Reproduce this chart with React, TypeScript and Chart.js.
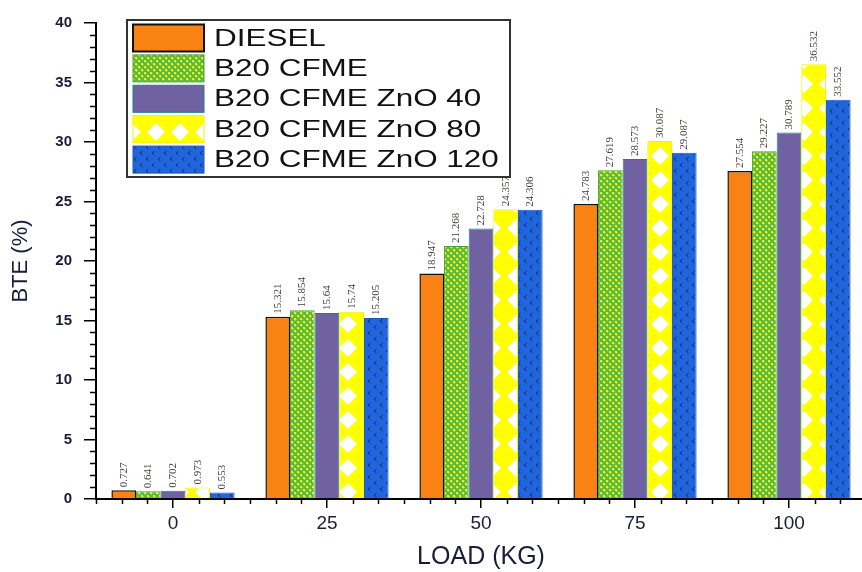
import { useEffect, useRef } from "react";
import { Chart, registerables } from "chart.js";

Chart.register(...registerables);

// ---------- data ----------
const categories = ["0", "25", "50", "75", "100"];
const seriesNames = ["DIESEL", "B20 CFME", "B20 CFME ZnO 40", "B20 CFME ZnO 80", "B20 CFME ZnO 120"];
const diesel = [0.727, 15.321, 18.947, 24.783, 27.554];
const b20cfme = [0.641, 15.854, 21.268, 27.619, 29.227];
const zno40 = [0.702, 15.64, 22.728, 28.573, 30.789];
const zno80 = [0.973, 15.74, 24.357, 30.087, 36.532];
const zno120 = [0.553, 15.205, 24.306, 29.087, 33.552];
const yMin = 0;
const yMax = 40;
const yStep = 5;
const xTitle = "LOAD (KG)";
const yTitle = "BTE (%)";

function makeTile(w: number, h: number, draw: (c: CanvasRenderingContext2D) => void) {
  const cv = document.createElement("canvas");
  cv.width = w;
  cv.height = h;
  const c = cv.getContext("2d")!;
  draw(c);
  return cv;
}

function makePatterns(ctx: CanvasRenderingContext2D) {
  const orange = "#F98212";
  const green = ctx.createPattern(
    makeTile(6, 6, (c) => {
      c.fillStyle = "#5CB940";
      c.fillRect(0, 0, 6, 6);
      c.fillStyle = "#E8F020";
      c.fillRect(0, 0, 2, 2);
      c.fillRect(3, 3, 2, 2);
      c.fillStyle = "#A8D52E";
      c.fillRect(2, 1, 1, 1);
      c.fillRect(5, 4, 1, 1);
      c.fillRect(1, 2, 1, 1);
      c.fillRect(4, 5, 1, 1);
    }),
    "repeat"
  )!;
  const purple = ctx.createPattern(
    makeTile(8, 8, (c) => {
      c.fillStyle = "#7A5CA6";
      c.fillRect(0, 0, 8, 8);
      c.fillStyle = "#2A8A88";
      c.fillRect(1, 1, 2, 2);
      c.fillRect(5, 5, 2, 2);
    }),
    "repeat"
  )!;
  const yellow = ctx.createPattern(
    makeTile(24, 24, (c) => {
      c.fillStyle = "#FFFF00";
      c.fillRect(0, 0, 24, 24);
      c.fillStyle = "#FFFFFF";
      c.beginPath();
      c.moveTo(12, 3);
      c.lineTo(21, 12);
      c.lineTo(12, 21);
      c.lineTo(3, 12);
      c.closePath();
      c.fill();
    }),
    "repeat"
  )!;
  const blue = ctx.createPattern(
    makeTile(12, 12, (c) => {
      c.fillStyle = "#1F66DE";
      c.fillRect(0, 0, 12, 12);
      c.strokeStyle = "#1B2E58";
      c.lineWidth = 1;
      c.beginPath();
      c.moveTo(4.5, 1);
      c.lineTo(2, 3);
      c.lineTo(4.5, 5);
      c.moveTo(10.5, 7);
      c.lineTo(8, 9);
      c.lineTo(10.5, 11);
      c.stroke();
    }),
    "repeat"
  )!;
  return [orange, green, purple, yellow, blue];
}

const borderColors = ["#111111", "#4FA030", "#1E7F7F", "#F2F200", "#1A55C0"];

const minorTicksPlugin = {
  id: "minorTicks",
  afterDraw(chart: any) {
    const { ctx, chartArea } = chart;
    const ys = chart.scales.y;
    const xs = chart.scales.x;
    ctx.save();
    ctx.strokeStyle = "#000";
    ctx.lineWidth = 1.5;
    ctx.beginPath();
    for (let v = yMin; v <= yMax; v += 1) {
      if (v % yStep === 0) continue;
      const y = Math.round(ys.getPixelForValue(v)) + 0.5;
      ctx.moveTo(chartArea.left - 6, y);
      ctx.lineTo(chartArea.left, y);
    }
    const n = categories.length;
    const cw = xs.getPixelForValue(1) - xs.getPixelForValue(0);
    for (let i = 0; i < n; i++) {
      const c = xs.getPixelForValue(i);
      const ks = i === n - 1 ? [-3, -2, -1, 1, 2, 3] : [-3, -2, -1, 1, 2];
      for (const k of ks) {
        const x = Math.round(c + (k / 6) * cw) + 0.5;
        ctx.moveTo(x, chartArea.bottom);
        ctx.lineTo(x, chartArea.bottom + 5);
      }
    }
    ctx.stroke();
    ctx.restore();
  },
};

const valueLabelPlugin = {
  id: "valueLabels",
  afterDatasetsDraw(chart: any) {
    const { ctx } = chart;
    ctx.save();
    ctx.font = '11px "Liberation Serif", "Times New Roman", serif';
    ctx.fillStyle = "#4a3a3a";
    ctx.textAlign = "left";
    ctx.textBaseline = "middle";
    chart.data.datasets.forEach((ds: any, di: number) => {
      const meta = chart.getDatasetMeta(di);
      meta.data.forEach((bar: any, i: number) => {
        ctx.save();
        ctx.translate(bar.x, bar.y - 3);
        ctx.rotate(-Math.PI / 2);
        ctx.fillText(String(ds.data[i]), 0, 0);
        ctx.restore();
      });
    });
    ctx.restore();
  },
};

const legendPlugin = {
  id: "boxLegend",
  afterDraw(chart: any) {
    const { ctx } = chart;
    const left = 127;
    const top = 20;
    const w = 383;
    const h = 157;
    ctx.save();
    ctx.fillStyle = "#fff";
    ctx.fillRect(left, top, w, h);
    ctx.strokeStyle = "#333";
    ctx.lineWidth = 2;
    ctx.strokeRect(left, top, w, h);
    const pitch = 30.4;
    chart.data.datasets.forEach((ds: any, i: number) => {
      const cy = 38 + i * pitch;
      ctx.fillStyle = ds.backgroundColor;
      ctx.fillRect(133, cy - 13.5, 71, 27);
      ctx.strokeStyle = i === 0 ? "#111" : ds.borderColor;
      ctx.lineWidth = i === 0 ? 2 : 1;
      ctx.strokeRect(133, cy - 13.5, 71, 27);
      ctx.save();
      ctx.translate(214, cy + 1);
      ctx.scale(1.31, 1);
      ctx.font = '24px "Liberation Sans", Arial, sans-serif';
      ctx.fillStyle = "#111";
      ctx.textAlign = "left";
      ctx.textBaseline = "middle";
      ctx.fillText(ds.label, 0, 0);
      ctx.restore();
    });
    ctx.restore();
  },
};

export default function App() {
  const ref = useRef<HTMLCanvasElement>(null);
  useEffect(() => {
    const canvas = ref.current!;
    const ctx = canvas.getContext("2d")!;
    const fills = makePatterns(ctx);
    const series = [diesel, b20cfme, zno40, zno80, zno120];
    const chart = new Chart(canvas, {
      type: "bar",
      data: {
        labels: categories,
        datasets: series.map((d, i) => ({
          label: seriesNames[i],
          data: d,
          backgroundColor: fills[i] as any,
          borderColor: borderColors[i],
          borderWidth: i === 0 ? 1.5 : 1,
          categoryPercentage: 0.8,
          barPercentage: 1.0,
        })),
      },
      options: {
        animation: false,
        responsive: false,
        layout: { padding: { left: 0, right: 4, top: 23, bottom: 0 } },
        plugins: { legend: { display: false }, tooltip: { enabled: false } },
        scales: {
          x: {
            type: "category",
            offset: true,
            grid: { display: true, drawOnChartArea: false, drawTicks: true, tickLength: 9, offset: false, color: "#000", lineWidth: 1.5 },
            border: { display: true, color: "#000", width: 2 },
            ticks: { color: "#1b1b3a", font: { family: '"Liberation Sans", Arial, sans-serif', size: 19 }, padding: 4, maxRotation: 0 },
            title: { display: true, text: xTitle, color: "#1b1b3a", font: { family: '"Liberation Sans", Arial, sans-serif', size: 25 }, padding: { top: 0, bottom: 0 } },
            afterFit: (s: any) => { s.height = 73; },
          },
          y: {
            min: yMin,
            max: yMax,
            ticks: { stepSize: yStep, color: "#1b1b3a", font: { family: '"Liberation Sans", Arial, sans-serif', size: 15, weight: "bold" }, padding: 12 },
            grid: { display: true, drawOnChartArea: false, drawTicks: true, tickLength: 12, color: "#000", lineWidth: 1.5 },
            border: { display: true, color: "#000", width: 2 },
            title: { display: true, text: yTitle, color: "#1b1b3a", font: { family: '"Liberation Sans", Arial, sans-serif', size: 22 }, padding: { top: 8, bottom: 0 } },
            afterFit: (s: any) => { s.width = 96; },
          },
        },
      },
      plugins: [minorTicksPlugin, valueLabelPlugin, legendPlugin],
    });
    return () => chart.destroy();
  }, []);
  return (
    <div style={{ position: "absolute", left: 0, top: 0, width: 862, height: 572, overflow: "hidden", background: "#fff" }}>
      <canvas ref={ref} width={870} height={572} style={{ display: "block" }} />
    </div>
  );
}
